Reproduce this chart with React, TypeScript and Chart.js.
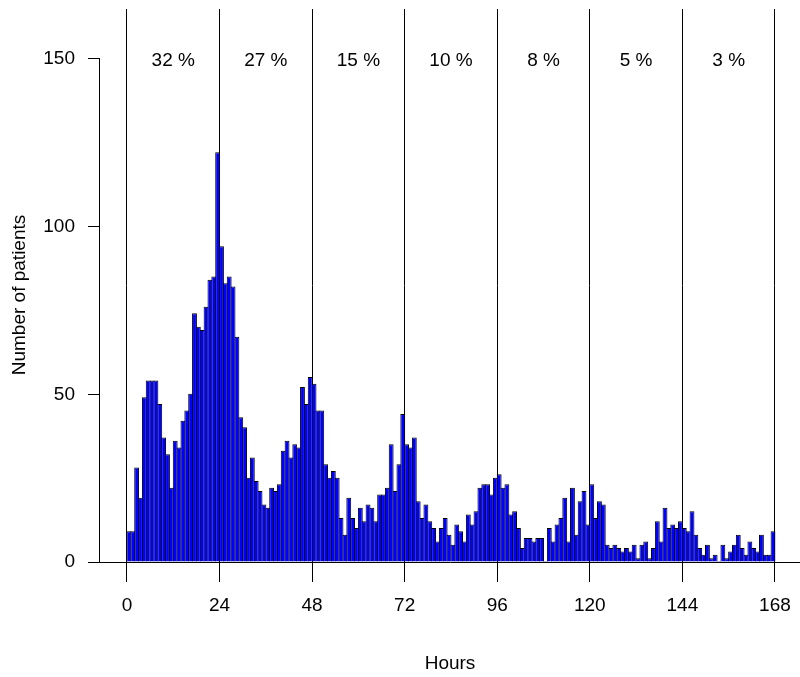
import React, { useEffect, useRef } from "react";
import { Chart, registerables } from "chart.js";

Chart.register(...registerables);

// Number of patients per hour (one bar per hour, 0–168 h)
const countsDay1 = [9, 9, 28, 19, 49, 54, 54, 54, 47, 37, 32, 22, 36, 34, 42, 45, 50, 74, 70, 69, 76, 84, 85, 122];
const countsDay2 = [94, 83, 85, 82, 67, 43, 40, 25, 31, 24, 21, 17, 16, 22, 21, 23, 33, 36, 31, 35, 34, 52, 47, 55];
const countsDay3 = [53, 45, 45, 29, 25, 27, 25, 13, 8, 19, 13, 10, 16, 12, 17, 16, 12, 20, 20, 22, 35, 21, 29, 44];
const countsDay4 = [35, 34, 37, 18, 13, 17, 12, 10, 6, 10, 13, 8, 5, 11, 9, 6, 14, 11, 15, 22, 23, 23, 20, 25];
const countsDay5 = [26, 22, 23, 14, 15, 10, 4, 7, 7, 6, 7, 7, 0, 10, 6, 11, 13, 19, 6, 22, 8, 18, 21, 11];
const countsDay6 = [23, 13, 18, 17, 5, 4, 5, 4, 3, 4, 3, 5, 1, 5, 6, 1, 4, 12, 6, 16, 10, 11, 10, 12];
const countsDay7 = [10, 9, 15, 8, 4, 2, 5, 1, 2, 0, 5, 1, 3, 5, 8, 4, 2, 6, 4, 3, 8, 2, 2, 9];

const dayPercents = ["32 %", "27 %", "15 %", "10 %", "8 %", "5 %", "3 %"];
const xTicks = [0, 24, 48, 72, 96, 120, 144, 168];
const yTicks = [0, 50, 100, 150];
const xTitle = "Hours";
const yTitle = "Number of patients";

const FONT = "'Liberation Sans', Arial, Helvetica, sans-serif";
const FONT_SIZE = 19;

export default function App() {
  const canvasRef = useRef<HTMLCanvasElement | null>(null);

  useEffect(() => {
    const canvas = canvasRef.current;
    if (!canvas) return;
    const counts = [
      ...countsDay1, ...countsDay2, ...countsDay3, ...countsDay4,
      ...countsDay5, ...countsDay6, ...countsDay7,
    ];
    const points = counts.map((v, i) => ({ x: i + 0.5, y: v }));

    Chart.defaults.font.family = FONT;
    Chart.defaults.font.size = FONT_SIZE;
    Chart.defaults.color = "#000";

    const zeroPadding = (s: any) => {
      s.paddingTop = 0;
      s.paddingBottom = 0;
      s.paddingLeft = 0;
      s.paddingRight = 0;
    };

    // Each histogram rectangle spans its bin from the x scale, widened by 0.5px per
    // side so its 1px outline is centred on the bin edge (shared with the neighbour).
    const binOutlines = {
      id: "binOutlines",
      afterDatasetsUpdate(chart: any) {
        const xs = chart.scales.x;
        const meta = chart.getDatasetMeta(0);
        meta.data.forEach((el: any, i: number) => {
          const l = xs.getPixelForValue(i) - 0.5;
          const r = xs.getPixelForValue(i + 1) + 0.5;
          el.x = (l + r) / 2;
          el.width = r - l;
          el.y = el.y - 0.5;
        });
      },
    };

    const decor = {
      id: "decor",
      afterDraw(chart: any) {
        const { ctx, scales } = chart;
        const x = scales.x;
        const y = scales.y;
        ctx.save();
        // y axis line from 0 to 150
        ctx.strokeStyle = "#000";
        ctx.lineWidth = 1;
        ctx.beginPath();
        const ax = Math.round(y.right) - 0.5;
        ctx.moveTo(ax, Math.round(y.getPixelForValue(yTicks[0])) + 0.5);
        ctx.lineTo(ax, Math.round(y.getPixelForValue(yTicks[yTicks.length - 1])) - 0.5);
        ctx.stroke();
        // percentage labels per day
        ctx.fillStyle = "#000";
        ctx.font = `${FONT_SIZE}px ${FONT}`;
        ctx.textAlign = "center";
        ctx.textBaseline = "middle";
        dayPercents.forEach((t, i) => {
          ctx.fillText(t, x.getPixelForValue(12 + 24 * i), y.getPixelForValue(149.4));
        });
        // y axis title
        ctx.translate(25, (y.top + y.bottom) / 2 + 9.5);
        ctx.rotate(-Math.PI / 2);
        ctx.textBaseline = "alphabetic";
        ctx.fillText(yTitle, 0, 0);
        ctx.restore();
      },
    };

    const chart = new Chart(canvas, {
      type: "bar",
      data: {
        datasets: [
          {
            data: points as any,
            backgroundColor: "#0000FF",
            borderColor: "#000000",
            borderWidth: { top: 1, left: 1, right: 1, bottom: 0 } as any,
            borderSkipped: "start",
            inflateAmount: 0,
            barPercentage: 1,
            categoryPercentage: 1,
          },
        ],
      },
      options: {
        animation: false,
        responsive: false,
        maintainAspectRatio: false,
        layout: { padding: { top: 9, left: 0, right: 0, bottom: 0 } },
        plugins: {
          legend: { display: false },
          tooltip: { enabled: false },
        },
        scales: {
          x: {
            type: "linear",
            offset: false,
            min: -7,
            max: 174.5,
            afterBuildTicks: (s: any) => {
              s.ticks = xTicks.map((v) => ({ value: v }));
            },
            afterFit: (s: any) => {
              s.height = 115;
              zeroPadding(s);
            },
            grid: {
              display: true,
              offset: false,
              drawOnChartArea: true,
              drawTicks: true,
              tickLength: 20,
              color: "#000",
              lineWidth: 1,
            },
            border: { display: true, color: "#000", width: 1 },
            ticks: {
              color: "#000",
              padding: 12,
              maxRotation: 0,
              autoSkip: false,
              font: { size: FONT_SIZE, family: FONT },
              callback: (v: any) => String(v),
            },
            title: {
              display: true,
              text: xTitle,
              color: "#000",
              font: { size: FONT_SIZE, family: FONT },
              padding: 2,
            },
          },
          y: {
            type: "linear",
            min: 0,
            max: 164.9,
            afterBuildTicks: (s: any) => {
              s.ticks = yTicks.map((v) => ({ value: v }));
            },
            afterFit: (s: any) => {
              s.width = 100;
              zeroPadding(s);
            },
            grid: {
              display: true,
              drawOnChartArea: false,
              drawTicks: true,
              tickLength: 12,
              color: "#000",
            },
            border: { display: false },
            ticks: {
              color: "#000",
              padding: 13,
              font: { size: FONT_SIZE, family: FONT },
              callback: (v: any) => String(v),
            },
          },
        },
      },
      plugins: [binOutlines, decor],
    } as any);

    return () => chart.destroy();
  }, []);

  return (
    <div style={{ position: "fixed", left: 0, top: 0, width: 800, height: 677, background: "#fff" }}>
      <canvas ref={canvasRef} width={800} height={677} style={{ display: "block", width: 800, height: 677 }} />
    </div>
  );
}
